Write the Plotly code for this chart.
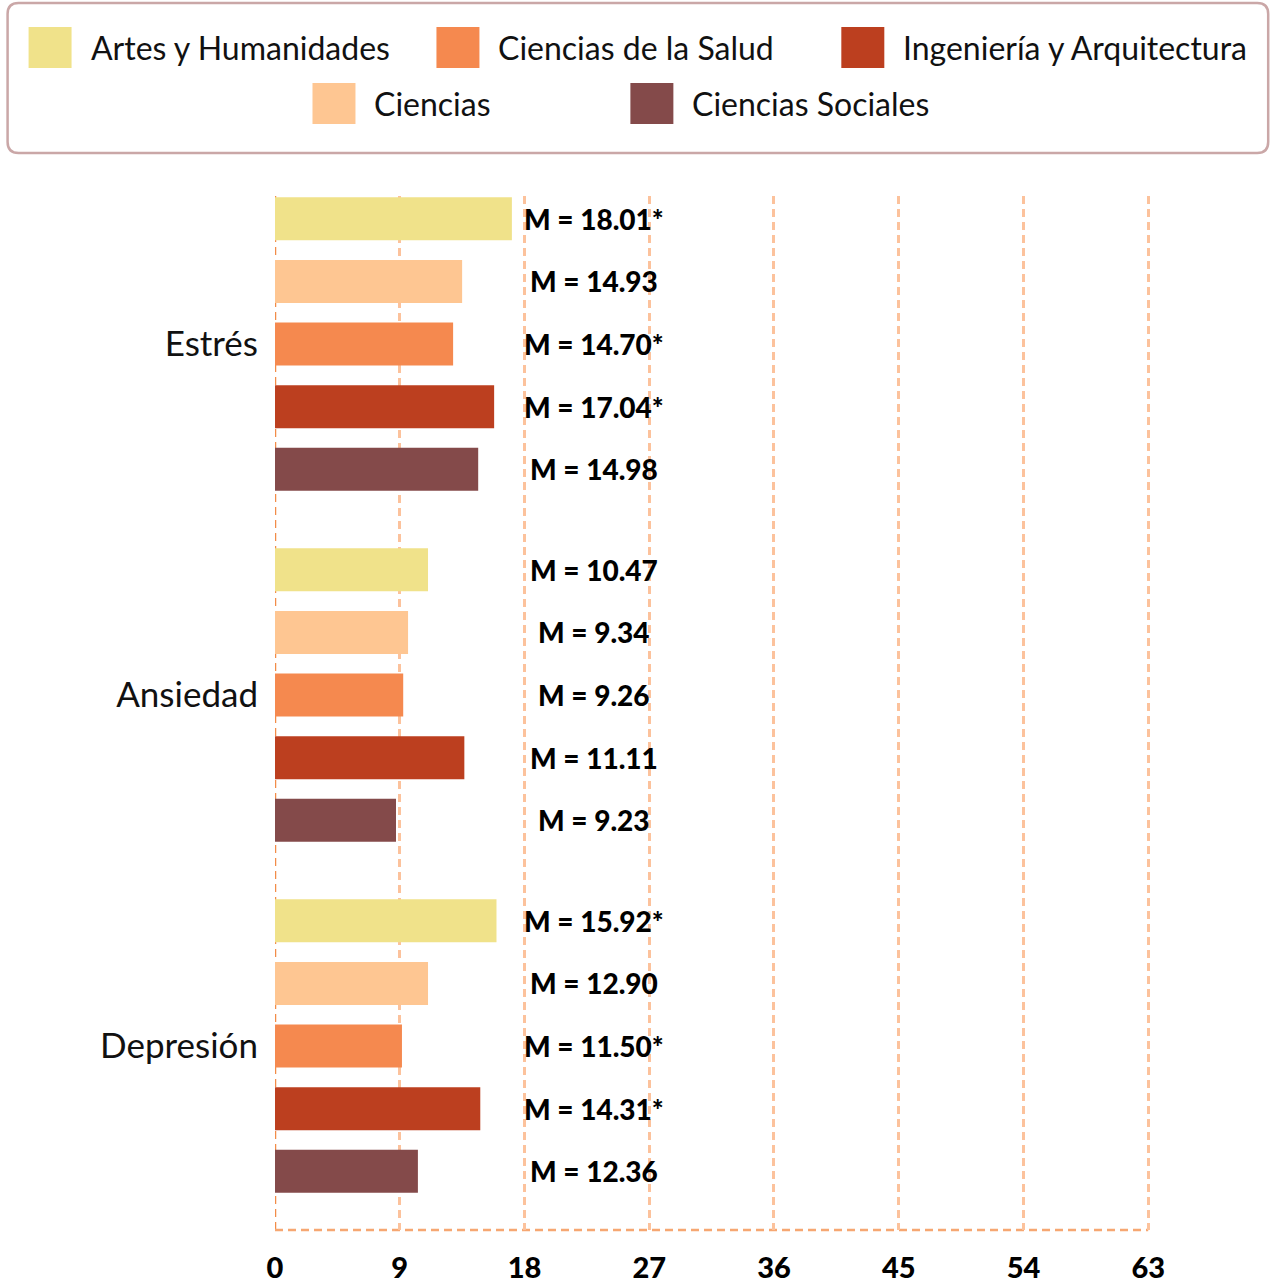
import plotly.graph_objects as go

# ---------------- data ----------------
CATEGORIES = ["Estrés", "Ansiedad", "Depresión"]
SERIES = ["Artes y Humanidades", "Ciencias", "Ciencias de la Salud",
          "Ingeniería y Arquitectura", "Ciencias Sociales"]
COLORS = ["#f0e28a", "#fec692", "#f5894f", "#bc3f1f", "#844a4a"]

# bar lengths as drawn in the picture (Estrés, Ansiedad, Depresión)
artes_humanidades = [17.09, 11.04, 15.98]
ciencias = [13.50, 9.60, 11.04]
ciencias_salud = [12.85, 9.25, 9.16]
ingenieria_arquitectura = [15.81, 13.66, 14.81]
ciencias_sociales = [14.66, 8.73, 10.31]

# printed mean labels
labels_artes = ["M = 18.01*", "M = 10.47", "M = 15.92*"]
labels_ciencias = ["M = 14.93", "M = 9.34", "M = 12.90"]
labels_salud = ["M = 14.70*", "M = 9.26", "M = 11.50*"]
labels_ingenieria = ["M = 17.04*", "M = 11.11", "M = 14.31*"]
labels_sociales = ["M = 14.98", "M = 9.23", "M = 12.36"]

X_TICKS = [0, 9, 18, 27, 36, 45, 54, 63]
LEGEND_ROWS = [["Artes y Humanidades", "Ciencias de la Salud", "Ingeniería y Arquitectura"],
               ["Ciencias", "Ciencias Sociales"]]

VALUES = [artes_humanidades, ciencias, ciencias_salud, ingenieria_arquitectura, ciencias_sociales]
LABELS = [labels_artes, labels_ciencias, labels_salud, labels_ingenieria, labels_sociales]

# ---------------- layout constants ----------------
W, H = 1270, 1283
X_MAX = 63.2                      # a little past 63 so the last grid line is drawn
ML, MT, MB = 274.5, 196, 53
K = (1148 - ML) / 63              # px per unit
PW = K * X_MAX
MR = W - ML - PW
PH = H - MT - MB
BARGAP, BARGROUPGAP = 0.108, 0.313
LABEL_X = 23.0
FONT = "Lato"

def px_x(p):
    return (p - ML) / PW

def px_y(p):
    return (H - MB - p) / PH

fig = go.Figure()
for name, vals, col in zip(SERIES, VALUES, COLORS):
    fig.add_trace(go.Bar(
        name=name, y=CATEGORIES, x=vals, orientation="h",
        marker=dict(color=col, line=dict(width=0)),
        showlegend=False, hoverinfo="skip",
    ))

annotations = []
slot = (1 - BARGAP) / len(SERIES)
for j, labs in enumerate(LABELS):
    for i, lab in enumerate(labs):
        annotations.append(dict(
            x=LABEL_X, y=i + (j - (len(SERIES) - 1) / 2) * slot,
            xref="x", yref="y", text=lab, showarrow=False,
            xanchor="center", yanchor="middle",
            font=dict(family=FONT, size=28, color="#000000", weight=900),
        ))

shapes = []
# rounded legend box
x0, x1, y0, y1, r = 7, 1268, 3, 153, 11
path = (f"M {px_x(x0 + r)},{px_y(y0)} L {px_x(x1 - r)},{px_y(y0)} "
        f"Q {px_x(x1)},{px_y(y0)} {px_x(x1)},{px_y(y0 + r)} "
        f"L {px_x(x1)},{px_y(y1 - r)} Q {px_x(x1)},{px_y(y1)} {px_x(x1 - r)},{px_y(y1)} "
        f"L {px_x(x0 + r)},{px_y(y1)} Q {px_x(x0)},{px_y(y1)} {px_x(x0)},{px_y(y1 - r)} "
        f"L {px_x(x0)},{px_y(y0 + r)} Q {px_x(x0)},{px_y(y0)} {px_x(x0 + r)},{px_y(y0)} Z")
shapes.append(dict(type="path", xref="paper", yref="paper", path=path,
                   line=dict(color="#caa7a7", width=2.5), fillcolor="rgba(0,0,0,0)"))

# legend entries
row_y = [47.5, 103.5]
row_x = [[28, 436, 841], [312, 630]]
for rr, names in enumerate(LEGEND_ROWS):
    for k, name in enumerate(names):
        col = COLORS[SERIES.index(name)]
        sx = row_x[rr][k]
        cy = row_y[rr]
        shapes.append(dict(type="rect", xref="paper", yref="paper",
                           x0=px_x(sx), x1=px_x(sx + 43), y0=px_y(cy + 20.5), y1=px_y(cy - 20.5),
                           fillcolor=col, line=dict(width=0)))
        annotations.append(dict(x=px_x(sx + 60), y=px_y(cy), xref="paper", yref="paper",
                                text=name, showarrow=False, xanchor="left", yanchor="middle",
                                font=dict(family=FONT, size=32, color="#111111")))

# dashed frame lines (left and bottom)
shapes.append(dict(type="line", xref="x", yref="paper", x0=0, x1=0, y0=0, y1=1,
                   line=dict(color="#f28c48", width=2.5, dash="8px,5px"), layer="below"))
shapes.append(dict(type="line", xref="x", yref="paper", x0=0, x1=63, y0=0, y1=0,
                   line=dict(color="#f6a772", width=2.5, dash="8px,5px"), layer="below"))

ycenter0 = 344.1
ystep = 351.0
y_top = (MT - ycenter0) / ystep
y_bot = (H - MB - ycenter0) / ystep

fig.update_layout(
    width=W, height=H,
    margin=dict(l=ML, r=MR, t=MT, b=MB, pad=0, autoexpand=False),
    paper_bgcolor="white", plot_bgcolor="white",
    barmode="group", bargap=BARGAP, bargroupgap=BARGROUPGAP,
    showlegend=False,
    xaxis=dict(range=[0, X_MAX], tickvals=X_TICKS, showgrid=True, automargin=False,
               gridcolor="#fcc29c", griddash="8px,5px", gridwidth=2.5,
               zeroline=False, showline=False, ticks="",
               ticklabelstandoff=18,
               tickfont=dict(family=FONT, size=29, color="#000000", weight=900)),
    yaxis=dict(type="category", categoryorder="array", categoryarray=CATEGORIES,
               range=[y_bot, y_top], showgrid=False, zeroline=False, showline=False,
               automargin=False, ticks="", ticklabelstandoff=16,
               tickfont=dict(family=FONT, size=35, color="#111111")),
    shapes=shapes,
    annotations=annotations,
)

fig.write_html("out.html", config={"displayModeBar": False},
               post_script="document.body.style.margin='0';document.body.style.overflow='hidden';")
